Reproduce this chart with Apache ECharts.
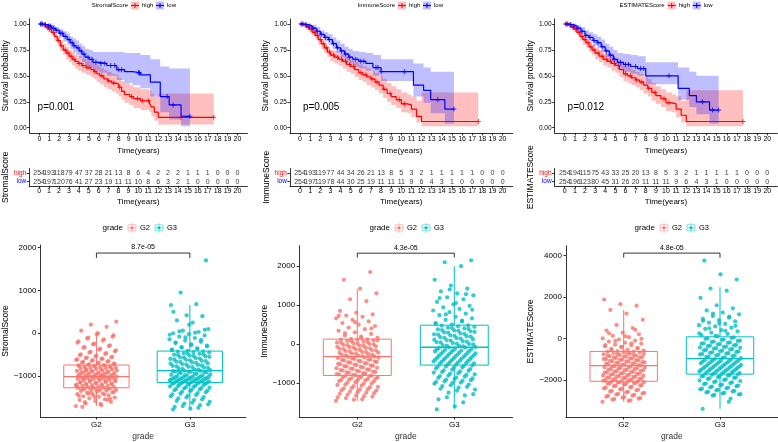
<!DOCTYPE html>
<html><head><meta charset="utf-8">
<script src="https://cdn.jsdelivr.net/npm/echarts@6/dist/echarts.min.js"></script>
<style>html,body{margin:0;padding:0;background:#fff}#c{width:778px;height:442px}</style>
</head><body><div id="c"></div>
<script>
// ---------------- DATA ----------------
const yearTicks = [0,1,2,3,4,5,6,7,8,9,10,11,12,13,14,15,16,17,18,19,20];
const scoreNames = ['StromalScore','ImmuneScore','ESTIMATEScore'];
const kmPValues = ['p=0.001','p=0.005','p=0.012'];
const boxPValues = ['8.7e-05','4.3e-05','4.8e-05'];
const gradeNames = ['G2','G3'];

// Kaplan-Meier: StromalScore
const stromalHighT  = [0,0.3,0.6,0.9,1.2,1.5,1.8,2.1,2.4,2.7,3.0,3.3,3.6,3.9,4.3,4.7,5.2,5.5,5.8,6.1,6.5,6.9,7.3,7.7,8.0,8.3,8.6,9.1,9.5,10.2,11.1,11.3,11.6,12.0,17.6];
const stromalHighS  = [1,0.99,0.97,0.95,0.92,0.88,0.84,0.79,0.75,0.72,0.69,0.66,0.64,0.62,0.60,0.58,0.56,0.54,0.52,0.50,0.47,0.45,0.43,0.42,0.39,0.35,0.32,0.30,0.28,0.26,0.24,0.20,0.15,0.10,0.10];
const stromalHighLo = [1,0.98,0.95,0.92,0.89,0.84,0.80,0.74,0.70,0.66,0.63,0.60,0.57,0.55,0.53,0.51,0.49,0.47,0.44,0.42,0.39,0.37,0.35,0.33,0.30,0.27,0.24,0.22,0.19,0.17,0.15,0.11,0.07,0.03,0.03];
const stromalHighHi = [1,1.0,0.99,0.98,0.95,0.92,0.88,0.84,0.81,0.78,0.75,0.73,0.70,0.69,0.67,0.65,0.64,0.62,0.60,0.58,0.56,0.54,0.52,0.51,0.48,0.45,0.43,0.41,0.39,0.37,0.36,0.33,0.30,0.33,0.33];
const stromalHighCens = [0.2,0.5,0.8,1.0,1.4,1.9,2.2,2.6,2.9,3.2,3.5,4.0,4.4,4.8,5.0,5.6,6.3,7.0,7.5,8.1,9.3,9.9,10.4,11.0,14.3,17.6];
const stromalLowT  = [0,0.4,0.8,1.2,1.6,2.0,2.4,2.8,3.1,3.4,3.7,4.0,4.3,4.6,5.0,5.4,6.0,6.8,7.8,8.6,9.4,10.2,11.2,12.2,13.1,14.3,15.2];
const stromalLowS  = [1,0.995,0.98,0.96,0.94,0.91,0.88,0.85,0.82,0.79,0.77,0.74,0.71,0.68,0.66,0.63,0.62,0.60,0.56,0.54,0.53,0.51,0.44,0.30,0.22,0.11,0.11];
const stromalLowLo = [1,0.99,0.96,0.94,0.91,0.87,0.83,0.80,0.76,0.73,0.70,0.67,0.63,0.60,0.58,0.55,0.53,0.50,0.46,0.43,0.41,0.38,0.30,0.15,0.08,0.015,0.015];
const stromalLowHi = [1,1.0,1.0,0.99,0.97,0.95,0.93,0.91,0.88,0.86,0.84,0.81,0.79,0.76,0.75,0.73,0.73,0.73,0.73,0.72,0.72,0.70,0.66,0.59,0.57,0.57,0.57];
const stromalLowCens = [0.1,0.3,0.6,0.9,1.1,1.4,1.7,2.1,2.3,2.6,3.0,3.3,3.5,3.9,4.2,4.5,4.9,5.3,5.7,6.2,6.6,7.2,7.6,8.0,8.3,10.0,10.1,12.9,13.5,15.2];

// Kaplan-Meier: ImmuneScore
const immuneHighT  = [0,0.3,0.6,0.9,1.2,1.5,1.8,2.1,2.4,2.7,3.0,3.4,3.8,4.2,4.6,5.0,5.4,5.8,6.2,6.6,7.0,7.4,7.8,8.2,8.6,9.0,9.5,10.0,10.6,11.0,11.5,12.0,17.6];
const immuneHighS  = [1,0.99,0.97,0.95,0.92,0.89,0.85,0.81,0.77,0.73,0.70,0.68,0.66,0.64,0.61,0.59,0.56,0.53,0.51,0.49,0.47,0.44,0.41,0.37,0.33,0.30,0.27,0.23,0.22,0.18,0.11,0.06,0.06];
const immuneHighLo = [1,0.98,0.95,0.92,0.89,0.85,0.80,0.76,0.72,0.68,0.64,0.62,0.60,0.57,0.54,0.52,0.49,0.46,0.44,0.41,0.39,0.36,0.33,0.29,0.25,0.22,0.19,0.15,0.14,0.10,0.05,0.015,0.015];
const immuneHighHi = [1,1.0,0.99,0.98,0.95,0.93,0.89,0.86,0.82,0.78,0.75,0.74,0.72,0.70,0.68,0.66,0.63,0.61,0.59,0.57,0.55,0.53,0.50,0.47,0.43,0.40,0.37,0.34,0.32,0.30,0.26,0.34,0.34];
const immuneHighCens = [0.2,0.5,0.8,1.1,1.4,1.7,2.0,2.3,2.6,2.9,3.3,3.7,4.1,4.5,4.9,5.3,6.0,6.5,7.1,7.6,8.3,8.9,9.8,10.3,17.6];
const immuneLowT  = [0,0.4,0.8,1.2,1.6,2.0,2.4,2.8,3.2,3.6,4.0,4.4,4.8,5.2,5.8,6.5,7.2,8.0,11.2,12.2,12.9,14.3,15.2];
const immuneLowS  = [1,0.995,0.98,0.96,0.93,0.90,0.87,0.85,0.81,0.77,0.74,0.71,0.68,0.66,0.64,0.62,0.58,0.54,0.41,0.36,0.27,0.18,0.18];
const immuneLowLo = [1,0.99,0.96,0.94,0.90,0.87,0.83,0.80,0.76,0.72,0.68,0.65,0.62,0.59,0.57,0.55,0.50,0.45,0.30,0.24,0.14,0.04,0.04];
const immuneLowHi = [1,1,1,0.99,0.97,0.94,0.92,0.90,0.87,0.84,0.81,0.78,0.76,0.74,0.73,0.72,0.70,0.66,0.62,0.58,0.54,0.54,0.54];
const immuneLowCens = [0.1,0.3,0.6,0.9,1.3,1.7,2.1,2.5,2.9,3.3,3.7,4.1,4.5,4.9,5.5,6.0,6.3,7.5,7.7,8.0,10.3,13.6,15.2];

// Kaplan-Meier: ESTIMATEScore
const estimateHighT  = [0,0.3,0.6,0.9,1.2,1.5,1.8,2.1,2.4,2.7,3.0,3.4,3.8,4.2,4.6,5.0,5.4,5.8,6.2,6.6,7.0,7.4,7.8,8.2,8.6,9.0,9.5,10.0,10.6,11.0,11.5,12.0,17.6];
const estimateHighS  = [1,0.99,0.97,0.95,0.92,0.88,0.85,0.82,0.78,0.75,0.72,0.69,0.66,0.64,0.62,0.60,0.56,0.52,0.50,0.48,0.46,0.44,0.41,0.38,0.34,0.31,0.28,0.24,0.23,0.18,0.12,0.06,0.06];
const estimateHighLo = [1,0.98,0.95,0.92,0.89,0.84,0.80,0.77,0.73,0.70,0.66,0.63,0.60,0.58,0.55,0.53,0.49,0.45,0.43,0.41,0.39,0.36,0.33,0.30,0.26,0.23,0.20,0.16,0.15,0.10,0.05,0.015,0.015];
const estimateHighHi = [1,1.0,0.99,0.98,0.95,0.92,0.89,0.86,0.83,0.80,0.77,0.75,0.72,0.70,0.69,0.67,0.63,0.60,0.58,0.56,0.54,0.52,0.50,0.47,0.43,0.40,0.37,0.34,0.32,0.30,0.26,0.36,0.36];
const estimateHighCens = [0.2,0.5,0.8,1.1,1.4,1.7,2.0,2.3,2.6,2.9,3.3,3.7,4.1,4.5,4.9,5.3,6.0,6.5,7.1,7.6,8.3,8.9,9.8,10.3,17.6];
const estimateLowT  = [0,0.4,0.8,1.2,1.6,2.0,2.4,2.8,3.2,3.6,4.0,4.4,4.8,5.2,5.8,6.5,7.2,8.0,11.2,12.3,13.0,14.3,15.2];
const estimateLowS  = [1,0.995,0.98,0.96,0.93,0.89,0.87,0.84,0.82,0.78,0.74,0.70,0.66,0.63,0.61,0.59,0.57,0.50,0.38,0.31,0.25,0.17,0.17];
const estimateLowLo = [1,0.99,0.96,0.94,0.90,0.86,0.83,0.79,0.77,0.73,0.68,0.64,0.60,0.56,0.54,0.52,0.50,0.42,0.27,0.20,0.13,0.04,0.04];
const estimateLowHi = [1,1,1,0.99,0.97,0.94,0.92,0.90,0.88,0.85,0.81,0.78,0.75,0.72,0.71,0.70,0.69,0.63,0.58,0.54,0.50,0.50,0.50];
const estimateLowCens = [0.1,0.3,0.6,0.9,1.3,1.7,2.1,2.5,2.9,3.3,3.7,4.1,4.5,4.9,5.5,6.0,6.3,7.0,7.5,7.8,10.3,13.6,14.6,15.2];

// Numbers at risk
const riskStromalHigh  = [254,193,118,79,47,37,28,21,13,8,6,4,2,2,2,1,1,1,0,0,0];
const riskStromalLow   = [254,197,120,76,41,27,23,19,11,11,10,8,6,3,2,1,0,0,0,0,0];
const riskImmuneHigh   = [254,193,119,77,44,34,26,21,13,8,5,3,2,1,1,1,1,1,0,0,0];
const riskImmuneLow    = [254,197,119,78,44,30,25,19,11,11,11,9,6,4,3,1,0,0,0,0,0];
const riskEstimateHigh = [254,194,115,75,43,33,25,20,13,8,5,3,2,1,1,1,1,1,0,0,0];
const riskEstimateLow  = [254,196,123,80,45,31,26,20,11,11,11,9,6,4,3,1,0,0,0,0,0];

// Boxplot summaries [lower whisker, Q1, median, Q3, upper whisker]
const stromalG2Box  = [-1700,-1273,-1014,-741,40];
const stromalG3Box  = [-1780,-1150,-870,-416,660];
const immuneG2Box   = [-1460,-808,-325,125,1420];
const immuneG3Box   = [-1680,-542,-83,483,2000];
const estimateG2Box = [-3050,-2062,-1312,-625,1375];
const estimateG3Box = [-3390,-1719,-969,78,2469];
const boxBracket = [[1873,1760],[2333,2220],[4110,3890]];

// Jittered points
const stromalG2 = [-1700,-1680,-1640,-1600,-1580,-1560,-1540,-1520,-1500,-1480,-1470,-1450,-1440,-1420,-1400,-1390,-1380,-1360,-1350,-1340,-1330,-1320,-1310,-1300,-1290,-1285,-1278,
 -1270,-1260,-1250,-1240,-1230,-1220,-1210,-1200,-1190,-1180,-1170,-1160,-1150,-1140,-1130,-1120,-1110,-1100,-1090,-1080,-1070,-1060,-1050,-1045,-1040,-1030,-1025,-1018,
 -1010,-1000,-990,-980,-970,-960,-950,-940,-930,-920,-910,-900,-890,-880,-870,-860,-850,-840,-830,-820,-810,-800,-790,-780,-770,-760,-750,-745,
 -735,-720,-700,-680,-660,-640,-620,-600,-580,-560,-540,-510,-480,-450,-420,-380,-340,-300,-260,-220,-170,-120,-80,-20,60,150,200,270,
 -1650,-1610,-1530,-1490,-1460,-1430,-1410,-1370,-1345,-1315,-1295,-1265,-1245,-1225,-1205,-1185,-1165,-1145,-1125,-1105,-1085,-1065,-1055,-1035,-1015,-1005,-995,-985,-965,-945,
 -925,-905,-885,-865,-845,-825,-805,-785,-765,-755,-728,-710,-690,-670,-650,-630,-610,-590,-570,-550,-525,-495,-465,-435,-400,-360,-320,-280,-240,-190,-140,-100,-50,0,-1720,-1555,-1395,-1215,-975,-875];
const stromalG3 = [-1780,-1740,-1700,-1660,-1620,-1580,-1540,-1500,-1470,-1440,-1410,-1380,-1350,-1330,-1310,-1290,-1270,-1250,-1230,-1210,-1195,-1180,-1170,-1160,-1155,
 -1140,-1130,-1120,-1110,-1100,-1090,-1080,-1070,-1060,-1050,-1040,-1030,-1020,-1010,-1000,-990,-980,-970,-950,-930,-915,-900,-890,-880,-875,
 -860,-840,-820,-800,-780,-760,-740,-720,-700,-680,-660,-640,-620,-600,-580,-560,-540,-520,-500,-480,-465,-450,-440,-430,-420,
 -410,-380,-350,-320,-290,-260,-230,-200,-170,-140,-110,-80,-50,-20,0,30,60,100,250,300,400,420,660,680,950,1700,
 -1760,-1720,-1680,-1640,-1600,-1560,-1520,-1490,-1455,-1425,-1395,-1365,-1340,-1320,-1300,-1280,-1260,-1240,-1220,-1200,-1185,-1175,-1165,-1145,-1135,-1125,-1115,-1105,-1095,-1085,
 -1075,-1065,-1055,-1045,-1035,-1025,-1005,-985,-960,-940,-920,-905,-895,-885,-850,-830,-810,-790,-770,-750,-730,-710,-690,-670,-650,-630,-610,-590,-570,-550,
 -530,-510,-490,-470,-395,-365,-335,-305,-275,-215,-155,-95,-35,15,45,80,200,500];
const immuneG2 = [-1460,-1420,-1390,-1350,-1320,-1280,-1250,-1220,-1200,-1170,-1140,-1110,-1080,-1050,-1020,-990,-960,-940,-920,-900,-880,-860,-840,-825,-812,
 -800,-780,-760,-740,-720,-700,-680,-660,-640,-620,-600,-580,-560,-540,-520,-500,-480,-460,-440,-420,-400,-380,-360,-345,-330,
 -320,-300,-280,-260,-240,-220,-200,-180,-160,-140,-120,-100,-80,-60,-40,-20,0,20,40,60,80,95,105,115,122,
 130,160,190,220,260,300,340,380,420,460,500,540,580,620,660,700,730,760,800,850,1100,1150,1300,1420,1650,1850,
 -1430,-1370,-1340,-1300,-1260,-1230,-1190,-1160,-1130,-1100,-1070,-1040,-1010,-980,-950,-930,-910,-890,-870,-850,-830,-790,-770,-750,-730,-710,-690,-670,-650,-630,
 -610,-590,-570,-550,-530,-510,-490,-470,-450,-430,-410,-390,-370,-350,-310,-290,-270,-250,-230,-210,-190,-170,-150,-130,-110,-90,-70,-50,-30,-10,
 10,30,50,70,90,150,280,400,560,720];
const immuneG3 = [-1680,-1500,-1370,-1290,-1200,-1150,-1100,-1060,-1020,-990,-960,-930,-900,-870,-840,-810,-780,-750,-720,-690,-660,-630,-600,-575,-550,
 -530,-510,-490,-470,-450,-430,-410,-390,-370,-350,-330,-310,-290,-270,-250,-230,-210,-190,-170,-150,-135,-120,-105,-95,-88,
 -75,-50,-25,0,25,50,75,100,125,150,175,200,225,250,275,300,325,350,375,400,420,440,455,470,480,
 500,540,580,620,660,700,740,780,820,860,900,940,980,1020,1080,1150,1200,1250,1300,1350,1420,1500,1650,2000,2100,2150,
 -1600,-1420,-1320,-1250,-1170,-1120,-1080,-1040,-1000,-975,-945,-915,-885,-855,-825,-795,-765,-735,-705,-675,-645,-615,-585,-560,-520,-500,-480,-460,-440,-420,
 -400,-380,-360,-340,-320,-300,-280,-260,-240,-220,-200,-180,-160,-140,-60,-40,-10,10,40,60,90,110,140,160,190,210,240,260,290,310,
 340,360,390,410,520,600,760,880,1050,1180,1280,1400];
const estimateG2 = [-3050,-3000,-2950,-2900,-2850,-2800,-2750,-2700,-2650,-2600,-2550,-2500,-2450,-2400,-2350,-2300,-2260,-2220,-2180,-2150,-2120,-2100,-2085,-2075,-2068,
 -2050,-2020,-1990,-1960,-1930,-1900,-1870,-1840,-1810,-1780,-1750,-1720,-1690,-1660,-1630,-1600,-1570,-1540,-1510,-1480,-1450,-1420,-1390,-1360,-1330,
 -1300,-1270,-1240,-1210,-1180,-1150,-1120,-1090,-1060,-1030,-1000,-970,-940,-910,-880,-850,-820,-790,-760,-730,-700,-680,-660,-645,-632,
 -615,-580,-540,-500,-460,-420,-380,-340,-300,-250,-200,-150,-100,-50,0,60,130,200,280,380,500,650,900,1200,1375,1580,1650,1870,
 -2980,-2920,-2870,-2820,-2770,-2720,-2670,-2620,-2570,-2520,-2470,-2420,-2370,-2330,-2280,-2240,-2200,-2160,-2135,-2110,-2035,-2005,-1975,-1945,-1915,-1885,-1855,-1825,-1795,-1765,
 -1735,-1705,-1675,-1645,-1615,-1585,-1555,-1525,-1495,-1465,-1435,-1405,-1375,-1345,-1285,-1255,-1225,-1195,-1165,-1135,-1105,-1075,-1045,-1015,-985,-955,-925,-895,-865,-835,
 -805,-775,-745,-715,-560,-480,-400,-320,-230,-120,-20,100,250,420];
const estimateG3 = [-3390,-3050,-2750,-2700,-2650,-2600,-2550,-2500,-2450,-2400,-2350,-2300,-2250,-2200,-2150,-2100,-2050,-2000,-1950,-1900,-1860,-1820,-1780,-1750,-1730,
 -1710,-1680,-1650,-1620,-1590,-1560,-1530,-1500,-1470,-1440,-1410,-1380,-1350,-1320,-1290,-1260,-1230,-1200,-1170,-1140,-1110,-1080,-1050,-1020,-990,
 -950,-910,-870,-830,-790,-750,-710,-670,-630,-590,-550,-510,-470,-430,-390,-350,-310,-270,-230,-190,-150,-100,-50,0,50,
 100,160,220,280,340,400,460,520,580,640,700,760,820,880,940,1000,1080,1160,1250,1350,1450,1600,1950,2300,2400,2840,3090,3750,
 -2900,-2720,-2680,-2620,-2570,-2520,-2470,-2420,-2370,-2320,-2270,-2220,-2170,-2120,-2070,-2020,-1970,-1920,-1880,-1840,-1800,-1765,-1695,-1665,-1635,-1605,-1575,-1545,-1515,-1485,
 -1455,-1425,-1395,-1365,-1335,-1305,-1275,-1245,-1215,-1185,-1155,-1125,-1095,-1065,-1035,-930,-890,-850,-810,-770,-730,-690,-650,-610,-570,-530,-490,-450,-410,-370,
 -330,-290,-250,-210,-170,-120,-70,-20,30,130,250,370,490,610,730,850,1050,1200];
const boxYTicks = [[-1000,0,1000,2000],[-1000,0,1000,2000],[-2000,0,2000,4000]];

// ---------------- LAYOUT / STYLE ----------------
const FONT = 'Liberation Sans';
const RED = '#ff0000', BLUE = '#0000ff';
const REDBAND = 'rgba(255,0,0,0.25)', BLUEBAND = 'rgba(0,0,255,0.25)';
const G2C = '#F8766D', G3C = '#00BFC4';
const KM_LEFT = [24.6, 289.9, 554.6], KM_W = 222.8, KM_TOP = 18.8, KM_H = 114.1;
const TB_TOP = 168.5, TB_H = 17.5;
const BOX_LEFT = [34.7, 299.1, 565.9], BOX_W = [211.2, 213.4, 211.9], BOX_TOP = [245, 245.7, 245.7], BOX_H = [176.7, 176, 176];
const BOX_RANGE = [[-1955,2061],[-1875,2525],[-3783,4467]];

const panels = [
  {high:[stromalHighT,stromalHighS,stromalHighLo,stromalHighHi,stromalHighCens], low:[stromalLowT,stromalLowS,stromalLowLo,stromalLowHi,stromalLowCens],
   riskH:riskStromalHigh, riskL:riskStromalLow, g2:stromalG2, g3:stromalG3, g2b:stromalG2Box, g3b:stromalG3Box},
  {high:[immuneHighT,immuneHighS,immuneHighLo,immuneHighHi,immuneHighCens], low:[immuneLowT,immuneLowS,immuneLowLo,immuneLowHi,immuneLowCens],
   riskH:riskImmuneHigh, riskL:riskImmuneLow, g2:immuneG2, g3:immuneG3, g2b:immuneG2Box, g3b:immuneG3Box},
  {high:[estimateHighT,estimateHighS,estimateHighLo,estimateHighHi,estimateHighCens], low:[estimateLowT,estimateLowS,estimateLowLo,estimateLowHi,estimateLowCens],
   riskH:riskEstimateHigh, riskL:riskEstimateLow, g2:estimateG2, g3:estimateG3, g2b:estimateG2Box, g3b:estimateG3Box}
];

const PLUS = 'path://M4,0H6V4H10V6H6V10H4V6H0V4H4Z';
function stepAt(t, s, x){ let v = s[0]; for (let i=0;i<t.length;i++){ if (t[i] <= x) v = s[i]; } return v; }
function jit(i){ return (((i*0.6180339887) % 1) - 0.5) * 0.44; }

const axisLineBlack = {show:true, onZero:false, lineStyle:{color:'#000', width:0.8}};
const tickBlack = {show:true, length:2.5, lineStyle:{color:'#000', width:0.8}};

const grid = [], xAxis = [], yAxis = [], series = [], graphic = [];

panels.forEach((P, i) => {
  // ---- KM grid ----
  const gk = grid.length;
  grid.push({left:KM_LEFT[i], top:KM_TOP, width:KM_W, height:KM_H});
  xAxis.push({gridIndex:gk, type:'value', min:-1, max:21,
    axisLine:axisLineBlack, axisTick:Object.assign({customValues:yearTicks}, tickBlack),
    axisLabel:{customValues:yearTicks, formatter:v=>String(v), fontSize:7, color:'#000', fontFamily:FONT, margin:3},
    splitLine:{show:false}, name:'Time(years)', nameLocation:'middle', nameGap:14,
    nameTextStyle:{fontSize:8, color:'#000', fontFamily:FONT}});
  yAxis.push({gridIndex:gk, type:'value', min:-0.05, max:1.05,
    axisLine:axisLineBlack, axisTick:Object.assign({customValues:[0,0.25,0.5,0.75,1]}, tickBlack),
    axisLabel:{customValues:[0,0.25,0.5,0.75,1], formatter:v=>v.toFixed(2), fontSize:6.5, color:'#000', fontFamily:FONT, margin:3},
    splitLine:{show:false}, name:'Survival probability', nameLocation:'middle', nameGap:17,
    nameTextStyle:{fontSize:8.5, color:'#000', fontFamily:FONT}});
  [[P.high, REDBAND, RED],[P.low, BLUEBAND, BLUE]].forEach(([c, band, col]) => {
    const [t, s, lo, hi, cens] = c;
    series.push({type:'custom', xAxisIndex:gk, yAxisIndex:gk, silent:true, z:1, data:[[t[0], s[0]]],
      renderItem:(params, api) => {
        const pts = [];
        for (let k=0;k<t.length;k++){ const x1 = k+1<t.length ? t[k+1] : t[k]; pts.push(api.coord([t[k],hi[k]])); pts.push(api.coord([x1,hi[k]])); }
        for (let k=t.length-1;k>=0;k--){ const x1 = k+1<t.length ? t[k+1] : t[k]; pts.push(api.coord([x1,lo[k]])); pts.push(api.coord([t[k],lo[k]])); }
        return {type:'polygon', shape:{points:pts}, style:{fill:band}};
      }});
    series.push({type:'line', xAxisIndex:gk, yAxisIndex:gk, step:'end', symbol:'none', silent:true, z:3,
      data:t.map((x,k)=>[x, s[k]]), lineStyle:{color:col, width:1.2}});
    series.push({type:'scatter', xAxisIndex:gk, yAxisIndex:gk, symbol:PLUS, symbolSize:5, silent:true, z:4,
      data:cens.map(x=>[x, stepAt(t, s, x)]), itemStyle:{color:col}});
  });

  // ---- risk table ----
  const gt = grid.length;
  grid.push({left:KM_LEFT[i], top:TB_TOP, width:KM_W, height:TB_H});
  xAxis.push({gridIndex:gt, type:'value', min:-1, max:21,
    axisLine:axisLineBlack, axisTick:Object.assign({customValues:yearTicks}, tickBlack),
    axisLabel:{customValues:yearTicks, formatter:v=>String(v), fontSize:7, color:'#000', fontFamily:FONT, margin:2},
    splitLine:{show:false}, name:'Time(years)', nameLocation:'middle', nameGap:12,
    nameTextStyle:{fontSize:8, color:'#000', fontFamily:FONT}});
  yAxis.push({gridIndex:gt, type:'category', data:['low','high'],
    axisLine:axisLineBlack, axisTick:Object.assign({alignWithLabel:true, interval:0}, tickBlack),
    axisLabel:{interval:0, fontSize:6.5, fontFamily:FONT, margin:3,
      formatter:v => v==='high' ? '{h|high}' : '{l|low}',
      rich:{h:{color:RED, fontSize:6.5, fontFamily:FONT}, l:{color:BLUE, fontSize:6.5, fontFamily:FONT}}},
    name:scoreNames[i], nameLocation:'middle', nameGap:17,
    nameTextStyle:{fontSize:8.5, color:'#000', fontFamily:FONT}});
  [[P.riskH, 1],[P.riskL, 0]].forEach(([arr, row]) => {
    series.push({type:'scatter', xAxisIndex:gt, yAxisIndex:gt, symbolSize:1, silent:true,
      itemStyle:{color:'rgba(0,0,0,0)'},
      label:{show:true, position:'inside', formatter:p=>String(p.value[2]), fontSize:7, color:'#000', fontFamily:FONT},
      labelLayout:{hideOverlap:false},
      data:arr.map((n,k)=>[yearTicks[k], row, n])});
  });

  // ---- boxplot ----
  const gb = grid.length;
  grid.push({left:BOX_LEFT[i], top:BOX_TOP[i], width:BOX_W[i], height:BOX_H[i]});
  xAxis.push({gridIndex:gb, type:'value', min:0.4, max:2.6,
    axisLine:axisLineBlack, axisTick:Object.assign({customValues:[1,2]}, tickBlack),
    axisLabel:{customValues:[1,2], formatter:v=>gradeNames[Math.round(v)-1], fontSize:8, color:'#000', fontFamily:FONT, margin:4},
    splitLine:{show:false}, name:'grade', nameLocation:'middle', nameGap:15,
    nameTextStyle:{fontSize:8.5, color:'#333', fontFamily:FONT}});
  yAxis.push({gridIndex:gb, type:'value', min:BOX_RANGE[i][0], max:BOX_RANGE[i][1],
    axisLine:axisLineBlack, axisTick:Object.assign({customValues:boxYTicks[i]}, tickBlack),
    axisLabel:{customValues:boxYTicks[i], formatter:v=>String(v).replace('-','\u2212'), fontSize:8, color:'#000', fontFamily:FONT, margin:4},
    splitLine:{show:false}, name:scoreNames[i], nameLocation:'middle', nameGap: i===2 ? 30 : 27,
    nameTextStyle:{fontSize:8.5, color:'#000', fontFamily:FONT}});
  series.push({type:'custom', xAxisIndex:gb, yAxisIndex:gb, silent:true, z:2,
    data:[[1].concat(P.g2b), [2].concat(P.g3b)], encode:{x:0, y:[1,2,3,4,5]},
    renderItem:(params, api) => {
      const x = api.value(0);
      const col = params.dataIndex === 0 ? G2C : G3C;
      const pLW = api.coord([x, api.value(1)]), pQ1 = api.coord([x, api.value(2)]), pMd = api.coord([x, api.value(3)]);
      const pQ3 = api.coord([x, api.value(4)]), pUW = api.coord([x, api.value(5)]);
      const l = api.coord([x-0.35, api.value(4)]), r = api.coord([x+0.35, api.value(2)]);
      return {type:'group', children:[
        {type:'line', shape:{x1:pUW[0], y1:pUW[1], x2:pQ3[0], y2:pQ3[1]}, style:{stroke:col, lineWidth:1}},
        {type:'line', shape:{x1:pLW[0], y1:pLW[1], x2:pQ1[0], y2:pQ1[1]}, style:{stroke:col, lineWidth:1}},
        {type:'rect', shape:{x:l[0], y:l[1], width:r[0]-l[0], height:r[1]-l[1]}, style:{fill:'#fff', stroke:col, lineWidth:1}},
        {type:'line', shape:{x1:l[0], y1:pMd[1], x2:r[0], y2:pMd[1]}, style:{stroke:col, lineWidth:1.3}}
      ]};
    }});
  series.push({type:'scatter', xAxisIndex:gb, yAxisIndex:gb, symbolSize:4.2, silent:true, z:3,
    itemStyle:{color:G2C}, data:P.g2.map((v,k)=>[1 + jit(k), v])});
  series.push({type:'scatter', xAxisIndex:gb, yAxisIndex:gb, symbolSize:4.2, silent:true, z:3,
    itemStyle:{color:G3C}, data:P.g3.map((v,k)=>[2 + jit(k+5), v])});
  series.push({type:'custom', xAxisIndex:gb, yAxisIndex:gb, silent:true, z:5,
    data:[[1, 2, boxBracket[i][0], boxBracket[i][1]]], encode:{x:[0,1], y:[2,3]},
    renderItem:(params, api) => {
      const a = api.coord([api.value(0), api.value(3)]), b = api.coord([api.value(0), api.value(2)]);
      const c = api.coord([api.value(1), api.value(2)]), d = api.coord([api.value(1), api.value(3)]);
      return {type:'group', children:[
        {type:'polyline', shape:{points:[a,b,c,d]}, style:{stroke:'#000', lineWidth:0.8, fill:null}},
        {type:'text', x:(b[0]+c[0])/2, y:b[1]-2, style:{text:boxPValues[i], fontSize:7, fontFamily:FONT, fill:'#000', align:'center', verticalAlign:'bottom'}}
      ]};
    }});

  // ---- p value on KM ----
  graphic.push({type:'text', left:KM_LEFT[i]+13, top:102, style:{text:kmPValues[i], fontSize:10, fontFamily:FONT, fill:'#000'}});
});

// ---- KM legends ----
const kmLegendRight = [128, 395, 664.7];
kmLegendRight.forEach((R, i) => {
  const cy = 5.5;
  graphic.push({type:'text', right:778-R, top:cy-3.5, style:{text:scoreNames[i], fontSize:6, fontFamily:FONT, fill:'#000'}});
  [[RED, REDBAND, 'high', R+3],[BLUE, BLUEBAND, 'low', R+28]].forEach(([col, band, lab, x]) => {
    graphic.push({type:'rect', shape:{x:x, y:cy-4, width:8, height:8}, style:{fill:band}});
    graphic.push({type:'line', shape:{x1:x, y1:cy, x2:x+8, y2:cy}, style:{stroke:col, lineWidth:1.2}});
    graphic.push({type:'line', shape:{x1:x+4, y1:cy-2.5, x2:x+4, y2:cy+2.5}, style:{stroke:col, lineWidth:1}});
    graphic.push({type:'text', left:x+11, top:cy-3.5, style:{text:lab, fontSize:6, fontFamily:FONT, fill:'#000'}});
  });
});

// ---- boxplot legends ----
const boxLegendRight = [123, 390, 655];
boxLegendRight.forEach((R) => {
  const cy = 227.8;
  graphic.push({type:'text', right:778-R, top:cy-4.5, style:{text:'grade', fontSize:8, fontFamily:FONT, fill:'#000'}});
  [[G2C, 'G2', R+4],[G3C, 'G3', R+31]].forEach(([col, lab, x]) => {
    graphic.push({type:'line', shape:{x1:x+5, y1:cy-5, x2:x+5, y2:cy+5}, style:{stroke:col, lineWidth:0.8, opacity:0.6}});
    graphic.push({type:'rect', shape:{x:x+1, y:cy-3, width:8, height:6}, style:{fill:'#fff', stroke:col, lineWidth:0.8, opacity:0.6}});
    graphic.push({type:'line', shape:{x1:x+1, y1:cy, x2:x+9, y2:cy}, style:{stroke:col, lineWidth:0.8, opacity:0.6}});
    graphic.push({type:'circle', shape:{cx:x+5, cy:cy, r:1.6}, style:{fill:col}});
    graphic.push({type:'text', left:x+13, top:cy-4, style:{text:lab, fontSize:7.5, fontFamily:FONT, fill:'#000'}});
  });
});

const chart = echarts.init(document.getElementById('c'), null, {renderer:'canvas'});
chart.setOption({animation:false, backgroundColor:'#fff', textStyle:{fontFamily:FONT},
  grid, xAxis, yAxis, series, graphic});
</script></body></html>
